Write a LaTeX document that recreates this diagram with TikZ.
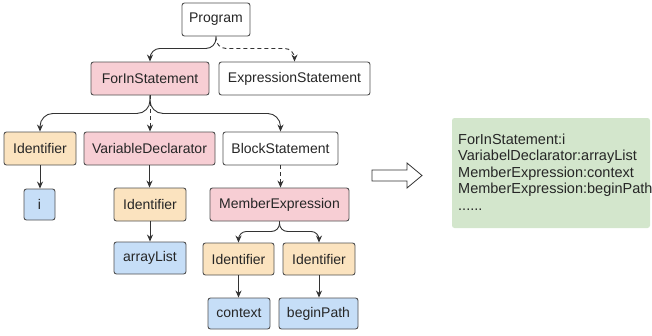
\documentclass[tikz,border=0pt]{standalone}
\usepackage{fontspec}
\setmainfont{Liberation Sans}
\usetikzlibrary{arrows.meta}
\definecolor{pinkf}{HTML}{F7CED4}
\definecolor{orangef}{HTML}{FBE3BF}
\definecolor{bluef}{HTML}{C6DEF7}
\definecolor{greenf}{HTML}{D3E6CC}
\definecolor{boxline}{HTML}{505050}
\definecolor{edgeline}{HTML}{333333}
\tikzset{
  box/.style={draw=boxline, line width=0.9pt, rounded corners=2.5pt, minimum height=33pt,
    inner sep=0pt, font=\fontsize{14}{16}\selectfont, text=black!85},
  wbox/.style={box, fill=white},
  pbox/.style={box, fill=pinkf},
  obox/.style={box, fill=orangef},
  bbox/.style={box, fill=bluef, minimum height=31pt},
  edge/.style={draw=edgeline, line width=0.9pt, -{Stealth[length=7pt,width=6pt]}},
  dedge/.style={edge, dash pattern=on 4pt off 3pt},
}
\begin{document}
\begin{tikzpicture}[x=1pt,y=-1pt]
\useasboundingbox (0,0) rectangle (652,335);
% nodes
\node[wbox, minimum width=68pt]  (prog)  at (216,19.5)  {Program};
\node[pbox, minimum width=118pt] (forin) at (150,78.5)  {ForInStatement};
\node[wbox, minimum width=151pt] (expr)  at (294.5,78.5){ExpressionStatement};
\node[obox, minimum width=72pt]  (id1)   at (40,148.5)  {Identifier};
\node[pbox, minimum width=131pt] (vard)  at (149.5,148.5){VariableDeclarator};
\node[wbox, minimum width=115pt] (block) at (280.5,148.5){BlockStatement};
\node[bbox, minimum width=31pt]  (ii)    at (39.5,204.5){i};
\node[obox, minimum width=72pt]  (id2)   at (150,204.5) {Identifier};
\node[pbox, minimum width=139pt] (mem)   at (279.5,204.5){MemberExpression};
\node[bbox, minimum width=72pt, minimum height=32pt] (arr) at (150,258) {arrayList};
\node[obox, minimum width=71pt, minimum height=32pt] (id3) at (238.5,259) {Identifier};
\node[obox, minimum width=72pt, minimum height=32pt] (id4) at (319,259) {Identifier};
\node[bbox, minimum width=62pt]  (ctx)   at (239,313.5) {context};
\node[bbox, minimum width=79pt]  (bp)    at (318.5,313.5){beginPath};
% edges
\draw[edge, rounded corners=10pt] (prog.south) -- ++(0,12) -| (forin.north);
\draw[dedge, rounded corners=10pt] (prog.south) -- ++(0,12) -| (expr.north);
\draw[edge, rounded corners=13pt] (forin.south) -- ++(0,18) -| (id1.north);
\draw[dedge] (forin.south) -- (forin.south |- vard.north);
\draw[edge, rounded corners=13pt] (forin.south) -- ++(0,18) -| (block.north);
\draw[edge] (id1.south) -- (ii.north -| id1.south);
\draw[edge] (vard.south) -- (vard.south |- id2.north);
\draw[dedge] (block.south) -- (block.south |- mem.north);
\draw[edge] (id2.south) -- (arr.north);
\draw[edge, rounded corners=8pt] (mem.south) -- ++(0,10) -| (id3.north);
\draw[edge, rounded corners=8pt] (mem.south) -- ++(0,10) -| (id4.north);
\draw[edge] (id3.south) -- (id3.south |- ctx.north);
\draw[edge] (id4.south) -- (id4.south |- bp.north);
% hollow arrow
\draw[draw=edgeline, line width=0.8pt, fill=white, line join=miter]
  (372,170) -- (407,170) -- (407,163) -- (422,175.5) -- (407,188) -- (407,181) -- (372,181) -- cycle;
% result box
\node[fill=greenf, rounded corners=2.5pt, minimum width=198pt, minimum height=110pt, inner sep=0pt] (res) at (551,173) {};
\node[anchor=north west, inner sep=0pt, align=left, font=\fontsize{14.5}{16.5}\selectfont, text=black!85] (restext) at (458,133.5)
  {ForInStatement:i\\VariabelDeclarator:arrayList\\MemberExpression:context\\MemberExpression:beginPath\\......};
\end{tikzpicture}
\end{document}
